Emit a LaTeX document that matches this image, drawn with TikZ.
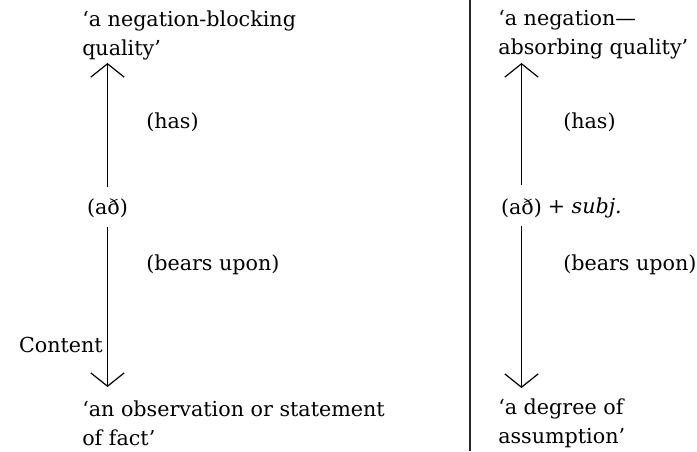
\documentclass[tikz,border=0pt]{standalone}
\usepackage{fontspec}
\setmainfont{DejaVu Serif}
\usetikzlibrary{arrows.meta}
\begin{document}
\begin{tikzpicture}[x=0.75pt,y=-0.75pt,
  txt/.style={anchor=west,inner sep=0pt,align=left,font=\fontsize{15.5}{21.75}\selectfont},
  mid/.style={inner sep=0pt,font=\fontsize{15.5}{21.75}\selectfont},
  conn/.style={line width=0.9pt,-{Straight Barb[length=10pt,width=25pt,line width=0.9pt]}},
  seg/.style={line width=0.9pt}]
\useasboundingbox (0,0) rectangle (697,451);
% divider
\draw[line width=1.1pt,black!85] (470,0) -- (470,451);
% left column
\node[txt] (qL) at (82,35) {‘a negation-blocking\\quality’};
\node[mid] (adL) at (107.5,208) {(að)};
\node[txt] (hasL) at (146,122) {(has)};
\node[txt] (bearL) at (146,265) {(bears upon)};
\node[txt,anchor=east] (cont) at (103,345) {Content};
\node[txt] (obsL) at (82,423) {‘an observation or statement\\of fact’};
\coordinate (tL) at (107.5,63);
\coordinate (bL) at (107.5,387);
\draw[conn] (adL.north) ++(0,-11) coordinate (a1) (a1) -- (tL);
\draw[conn] (adL.south) ++(0,9) coordinate (a2) (a2) -- (bL);
% right column
\node[txt] (qR) at (498,35) {‘a negation—\\absorbing quality’};
\node[mid] (adR) at (521.5,208) {(að)};
\node[txt,anchor=west] (subj) at ([xshift=4pt]adR.east) {+ \textit{subj.}};
\node[txt] (hasR) at (563,122) {(has)};
\node[txt] (bearR) at (563,265) {(bears upon)};
\node[txt] (degR) at (498,423) {‘a degree of\\assumption’};
\coordinate (tR) at (521.5,63);
\coordinate (bR) at (521.5,388);
\draw[conn] (adR.north) ++(0,-13) coordinate (a3) (a3) -- (tR);
\draw[conn] (adR.south) ++(0,8) coordinate (a4) (a4) -- (bR);
\end{tikzpicture}
\end{document}
